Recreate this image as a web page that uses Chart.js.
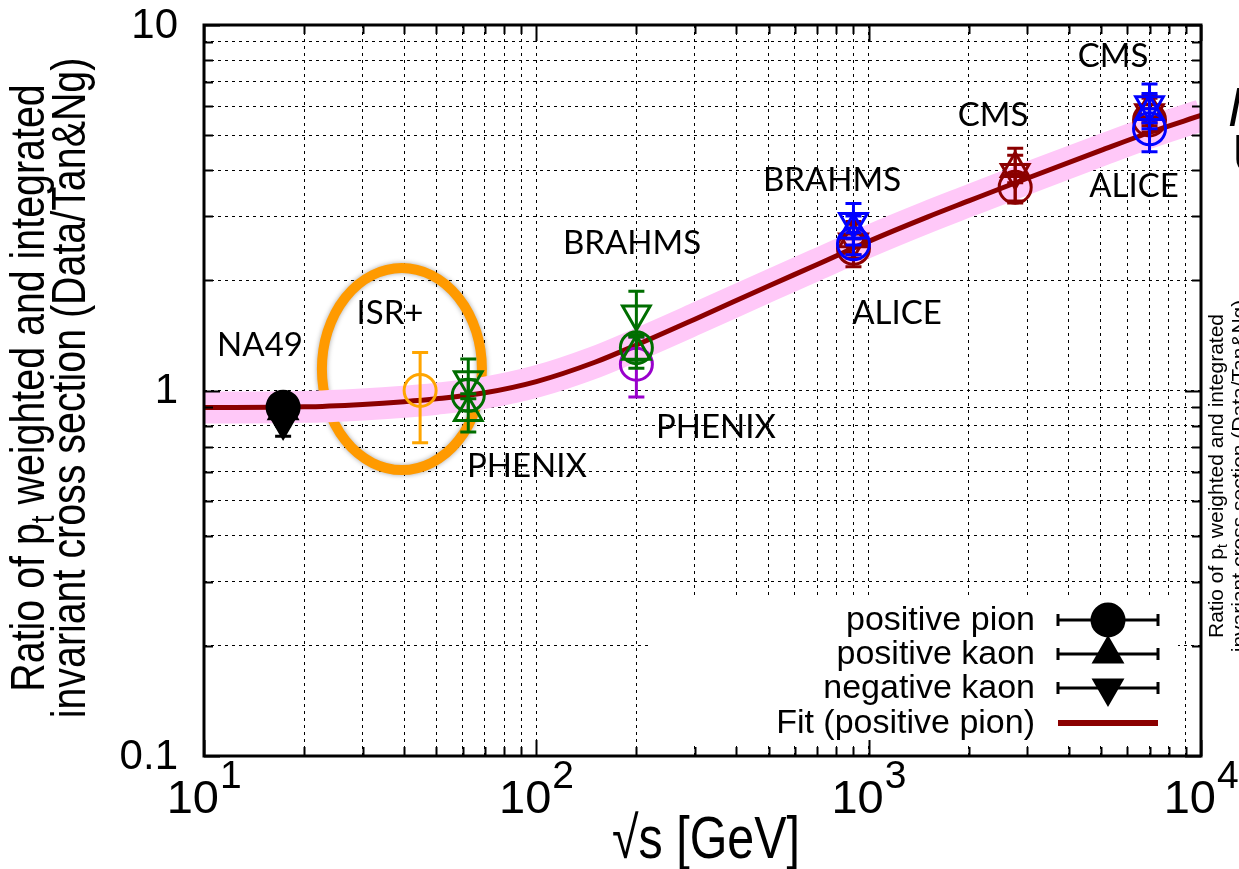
<!DOCTYPE html>
<html>
<head>
<meta charset="utf-8">
<script src="https://cdn.jsdelivr.net/npm/chart.js@4.4.1/dist/chart.umd.min.js"></script>
<style>
  html, body { margin: 0; padding: 0; background: #fff; }
  #wrap { position: relative; width: 1239px; height: 869px; }
</style>
</head>
<body>
<div id="wrap"><canvas id="ratioChart"></canvas></div>
<script>
// measured points (sqrt(s) in GeV) and ratio Data/Tan&Ng
const energy     = [17.3, 44.7, 62.4, 200, 200, 900, 900, 2760, 7000, 7000];
const pionRatio  = [0.90, 1.00, 0.97, 1.18, 1.31, 2.45, 2.52, 3.60, 5.50, 5.20];
const pionLow    = [0.85, 0.72, 0.88, 0.96, 1.21, 2.30, 2.35, 3.30, 5.10, 4.50];
const pionHigh   = [0.96, 1.27, 1.07, 1.40, 1.42, 2.60, 2.70, 3.90, 5.90, 5.90];
const kPlusRatio = [0.88, null, 0.87, null, 1.28, 2.60, 2.75, 4.05, 5.90, 5.80];
const kPlusLow   = [0.80, null, 0.77, null, 1.15, 2.35, 2.50, 3.70, 5.40, 5.20];
const kPlusHigh  = [0.96, null, 0.98, null, 1.42, 2.85, 3.00, 4.60, 6.40, 6.50];
const kMinRatio  = [0.82, null, 1.07, null, 1.62, 2.55, 2.90, 3.95, 5.75, 6.05];
const kMinLow    = [0.75, null, 0.95, null, 1.40, 2.18, 2.60, 3.26, 5.30, 5.40];
const kMinHigh   = [0.90, null, 1.22, null, 1.87, 2.90, 3.25, 4.40, 6.30, 6.90];

// fit to positive pion
const fitEnergy = [10, 20, 30, 40, 50, 70, 100, 150, 200, 300, 500, 700, 1000, 1500, 2000, 3000, 5000, 7000, 10000];
const fitRatio  = [0.898, 0.902, 0.916, 0.932, 0.949, 0.986, 1.058, 1.195, 1.332, 1.567, 1.932, 2.212, 2.559, 2.981, 3.302, 3.809, 4.539, 5.08, 5.655];

const xMajor = [10, 100, 1000, 10000];
const xMajorExp = ['1', '2', '3', '4'];
const yMajor = [0.1, 1, 10];
const yMajorLabel = ['0.1', '1', '10'];
const minorSteps = [2, 3, 4, 5, 6, 7, 8, 9];

const legendLabels = ['positive pion', 'positive kaon', 'negative kaon', 'Fit (positive pion)'];

// styles
const pointColors = ['#000000', '#ffa500', '#006e00', '#9900cc', '#006e00', '#8b0000', '#0000ff', '#8b0000', '#8b0000', '#0000ff'];
const expLabels = [
  ['NA49', 260, 345], ['ISR+', 390, 313], ['PHENIX', 527, 466], ['BRAHMS', 632, 243],
  ['PHENIX', 716, 427], ['BRAHMS', 832, 180], ['ALICE', 897, 313], ['CMS', 993, 115],
  ['ALICE', 1134, 186], ['CMS', 1113, 56]
];

const withMinors = majors => {
  const out = [];
  majors.forEach((m, i) => {
    out.push(m);
    if (i < majors.length - 1) minorSteps.forEach(s => out.push(m * s));
  });
  return out;
};
const xGrid = withMinors(xMajor);
const yGrid = withMinors(yMajor);

const markerSpecs = [
  { vals: pionRatio, lo: pionLow, hi: pionHigh, style: 'circle', rot: 0 },
  { vals: kPlusRatio, lo: kPlusLow, hi: kPlusHigh, style: 'triangle', rot: 0 },
  { vals: kMinRatio, lo: kMinLow, hi: kMinHigh, style: 'triangle', rot: 180 }
];

const pointSets = [];
energy.forEach((e, i) => {
  markerSpecs.forEach(spec => {
    if (spec.vals[i] == null) return;
    const filled = i === 0;
    pointSets.push({
      type: 'scatter',
      data: [{ x: e, y: spec.vals[i] }],
      errLow: spec.lo[i],
      errHigh: spec.hi[i],
      pointStyle: spec.style,
      rotation: spec.rot,
      pointRadius: 16,
      pointBorderWidth: 3,
      borderColor: pointColors[i],
      backgroundColor: filled ? pointColors[i] : 'rgba(0,0,0,0)',
      order: 0
    });
  });
});
pointSets.reverse(); // later points on top

const fitPoints = fitEnergy.map((e, i) => ({ x: e, y: fitRatio[i] }));

const errorBars = {
  id: 'errorBars',
  beforeDatasetDraw(chart, args) {
    const ds = chart.data.datasets[args.index];
    if (ds.errLow == null) return;
    const ctx = chart.ctx;
    const y = chart.scales.y;
    const el = args.meta.data[0];
    const px = el.x;
    const top = y.getPixelForValue(ds.errHigh);
    const bot = y.getPixelForValue(ds.errLow);
    ctx.save();
    ctx.strokeStyle = ds.borderColor;
    ctx.lineWidth = 3;
    ctx.beginPath();
    ctx.moveTo(px, top); ctx.lineTo(px, bot);
    ctx.moveTo(px - 8, top); ctx.lineTo(px + 8, top);
    ctx.moveTo(px - 8, bot); ctx.lineTo(px + 8, bot);
    ctx.stroke();
    ctx.restore();
  }
};

const decorations = {
  id: 'decorations',
  beforeDatasetsDraw(chart) {
    // ISR highlight ellipse
    const ctx = chart.ctx;
    const xs = chart.scales.x, ys = chart.scales.y;
    const cx = xs.getPixelForValue(39.4), cy = ys.getPixelForValue(1.145);
    ctx.save();
    ctx.strokeStyle = '#ff9a00';
    ctx.lineWidth = 10;
    ctx.shadowColor = 'rgba(0,0,0,0.35)';
    ctx.shadowBlur = 5;
    ctx.beginPath();
    ctx.ellipse(cx, cy, 80, 101, 0, 0, Math.PI * 2);
    ctx.stroke();
    ctx.restore();
  },
  afterDraw(chart) {
    const ctx = chart.ctx;
    const a = chart.chartArea;
    const xs = chart.scales.x, ys = chart.scales.y;
    const H = Chart.helpers;

    // experiment labels
    ctx.save();
    ctx.fillStyle = '#000';
    ctx.font = '33px Lato';
    ctx.textAlign = 'center';
    ctx.textBaseline = 'middle';
    expLabels.forEach(l => ctx.fillText(l[0], l[1], l[2]));
    ctx.restore();

    // legend
    ctx.save();
    ctx.fillStyle = '#fff';
    ctx.fillRect(648, 596, 530, 148);
    ctx.fillStyle = '#000';
    ctx.font = '34px "Liberation Sans", Arial';
    ctx.textAlign = 'right';
    ctx.textBaseline = 'middle';
    const rows = [620, 654, 688, 723];
    const legendMarkers = [['circle', 0], ['triangle', 0], ['triangle', 180]];
    legendLabels.forEach((t, i) => {
      ctx.fillText(t, 1035, rows[i] + 1);
      if (i < 3) {
        ctx.strokeStyle = '#000';
        ctx.lineWidth = 3;
        ctx.beginPath();
        ctx.moveTo(1058, rows[i]); ctx.lineTo(1158, rows[i]);
        ctx.moveTo(1058, rows[i] - 6); ctx.lineTo(1058, rows[i] + 6);
        ctx.moveTo(1158, rows[i] - 6); ctx.lineTo(1158, rows[i] + 6);
        ctx.stroke();
        ctx.fillStyle = '#000';
        H.drawPoint(ctx, { pointStyle: legendMarkers[i][0], rotation: legendMarkers[i][1], radius: 16, borderWidth: 1 }, 1108, rows[i]);
      } else {
        ctx.fillStyle = '#8b0000';
        ctx.fillRect(1058, rows[i] - 3, 100, 6);
      }
      ctx.fillStyle = '#000';
    });
    ctx.restore();

    // frame and inward ticks
    ctx.save();
    ctx.strokeStyle = '#000';
    ctx.lineWidth = 2;
    ctx.beginPath();
    xGrid.forEach(v => {
      const p = Math.round(xs.getPixelForValue(v)) + 0.5;
      const len = xMajor.includes(v) ? 16 : 9;
      ctx.moveTo(p, a.bottom); ctx.lineTo(p, a.bottom - len);
      ctx.moveTo(p, a.top); ctx.lineTo(p, a.top + len);
    });
    yGrid.forEach(v => {
      const p = Math.round(ys.getPixelForValue(v)) + 0.5;
      const len = yMajor.includes(v) ? 16 : 9;
      ctx.moveTo(a.left, p); ctx.lineTo(a.left + len, p);
      ctx.moveTo(a.right, p); ctx.lineTo(a.right - len, p);
    });
    ctx.stroke();
    ctx.lineWidth = 3;
    ctx.strokeRect(a.left, a.top, a.right - a.left, a.bottom - a.top);
    ctx.restore();

    // y tick labels
    ctx.save();
    ctx.fillStyle = '#000';
    ctx.font = '42px "Liberation Sans", Arial';
    ctx.textAlign = 'right';
    ctx.textBaseline = 'middle';
    yMajor.forEach((v, i) => ctx.fillText(yMajorLabel[i], 178, ys.getPixelForValue(v) + 1));
    ctx.restore();

    // x tick labels 10^n
    ctx.save();
    ctx.fillStyle = '#000';
    ctx.textBaseline = 'alphabetic';
    xMajor.forEach((v, i) => {
      const p = xs.getPixelForValue(v);
      ctx.font = '47px "Liberation Sans", Arial';
      ctx.textAlign = 'right';
      ctx.fillText('10', p + 15, 813);
      ctx.font = '39px "Liberation Sans", Arial';
      ctx.textAlign = 'left';
      ctx.fillText(xMajorExp[i], p + 16, 788);
    });
    ctx.restore();

    // axis titles (condensed)
    ctx.save();
    ctx.fillStyle = '#000';
    ctx.textAlign = 'center';
    ctx.textBaseline = 'middle';
    ctx.translate(706, 842);
    ctx.scale(0.82, 1);
    ctx.font = '59px "Liberation Sans", Arial';
    ctx.fillText('\u221As [GeV]', 0, 0);
    ctx.restore();

    const drawYTitle = (x, y, size, sx, gap) => {
      ctx.save();
      ctx.fillStyle = '#000';
      ctx.translate(x, y);
      ctx.rotate(-Math.PI / 2);
      ctx.scale(sx, 1);
      ctx.textBaseline = 'middle';
      const f = size + 'px "Liberation Sans", Arial';
      const fs = Math.round(size * 0.7) + 'px "Liberation Sans", Arial';
      // line 1 with subscript t
      const p1 = 'Ratio of p', p2 = ' weighted and integrated';
      ctx.font = f;
      const w1 = ctx.measureText(p1).width, w3 = ctx.measureText(p2).width;
      ctx.font = fs;
      const w2 = ctx.measureText('t').width;
      let x0 = -(w1 + w2 + w3) / 2;
      ctx.textAlign = 'left';
      ctx.font = f;
      ctx.fillText(p1, x0, 0);
      ctx.font = fs;
      ctx.fillText('t', x0 + w1, size * 0.28);
      ctx.font = f;
      ctx.fillText(p2, x0 + w1 + w2, 0);
      ctx.textAlign = 'center';
      ctx.fillText('invariant cross section (Data/Tan&Ng)', 0, gap);
      ctx.restore();
    };
    drawYTitle(31, 388, 48, 0.82, 41);
    drawYTitle(1217, 476, 21, 1, 23);

    // clipped letters at right edge
    ctx.save();
    ctx.fillStyle = '#000';
    ctx.font = 'italic 56px "Liberation Sans", Arial';
    ctx.fillText('M', 1228, 126);
    ctx.font = '56px "Liberation Sans", Arial';
    ctx.fillText('U', 1232, 173);
    ctx.restore();
  }
};

new Chart(document.getElementById('ratioChart'), {
  type: 'scatter',
  data: {
    datasets: [
      ...pointSets,
      {
        type: 'line',
        data: fitPoints,
        borderColor: '#8b0000',
        borderWidth: 5,
        pointRadius: 0,
        cubicInterpolationMode: 'monotone',
        fill: false,
        order: 1
      },
      {
        type: 'line',
        data: fitPoints,
        borderColor: '#ffc8f8',
        borderWidth: 32,
        pointRadius: 0,
        cubicInterpolationMode: 'monotone',
        fill: false,
        order: 2
      }
    ]
  },
  options: {
    responsive: true,
    maintainAspectRatio: false,
    animation: false,
    events: [],
    layout: { padding: { left: 204, top: 25, right: 38, bottom: 113 } },
    plugins: { legend: { display: false }, tooltip: { enabled: false } },
    scales: {
      x: {
        type: 'logarithmic',
        min: 10, max: 10000,
        afterBuildTicks: s => { s.ticks = xGrid.map(v => ({ value: v })); },
        ticks: { display: false },
        grid: { color: '#000', lineWidth: 1, drawTicks: false },
        border: { display: false, dash: [3, 4] }
      },
      y: {
        type: 'logarithmic',
        min: 0.1, max: 10,
        afterBuildTicks: s => { s.ticks = yGrid.map(v => ({ value: v })); },
        ticks: { display: false },
        grid: { color: '#000', lineWidth: 1, drawTicks: false },
        border: { display: false, dash: [3, 4] }
      }
    }
  },
  plugins: [errorBars, decorations]
});
</script>
</body>
</html>
